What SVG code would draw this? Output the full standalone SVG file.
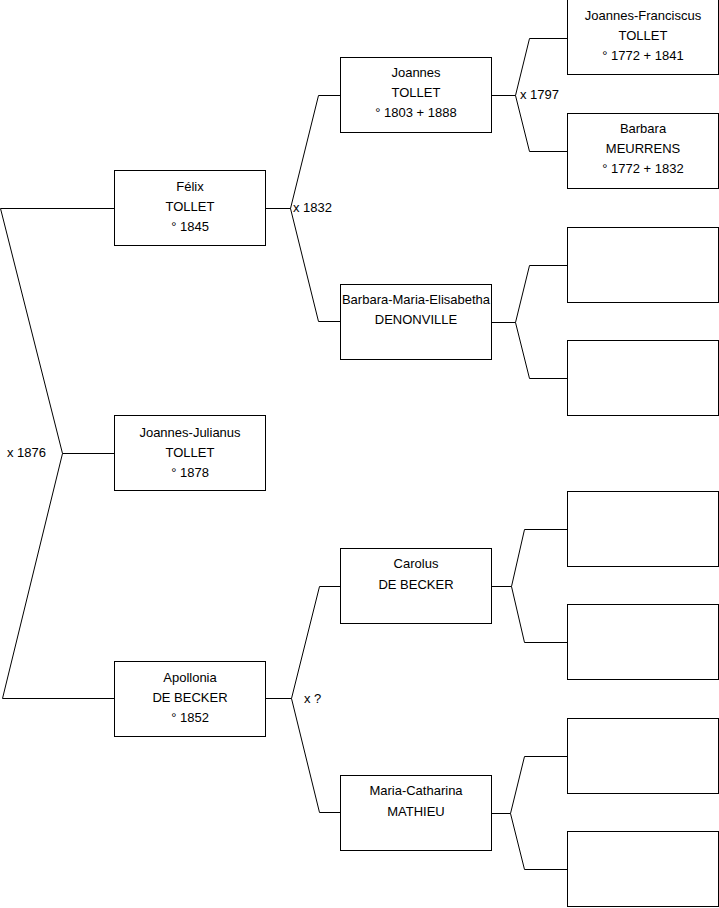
<svg xmlns="http://www.w3.org/2000/svg" width="719" height="908" viewBox="0 0 719 908">
<style>
.box{fill:#fff;stroke:#000;stroke-width:1}
.ln{fill:none;stroke:#000;stroke-width:1}
text{font-family:"Liberation Sans",Arial,sans-serif;font-size:13px;fill:#000}
.c{text-anchor:middle}
</style>
<rect width="719" height="908" fill="#fff"/>
<g id="connectors">
<polyline class="ln" points="114,208.5 0.5,208.5 62.5,453.5 2.5,698.5 114,698.5"/>
<line class="ln" x1="62.5" y1="453.5" x2="114" y2="453.5"/>
<polyline class="ln" points="340,95.5 318.5,95.5 290.5,208.5 318.5,321.5 340,321.5"/>
<line class="ln" x1="265" y1="208.5" x2="290.5" y2="208.5"/>
<polyline class="ln" points="340,586.5 319.5,586.5 291.5,698.5 319.5,812.5 340,812.5"/>
<line class="ln" x1="265" y1="698.5" x2="291.5" y2="698.5"/>
<polyline class="ln" points="567,38.5 529.5,38.5 515.5,95.5 529.5,151.5 567,151.5"/>
<line class="ln" x1="492" y1="95.5" x2="515.5" y2="95.5"/>
<polyline class="ln" points="567,265.5 529.5,265.5 515.5,322.5 529.5,378.5 567,378.5"/>
<line class="ln" x1="492" y1="322.5" x2="515.5" y2="322.5"/>
<polyline class="ln" points="567,529.5 524.5,529.5 511.5,586.5 524.5,642.5 567,642.5"/>
<line class="ln" x1="492" y1="586.5" x2="511.5" y2="586.5"/>
<polyline class="ln" points="567,756.5 524.5,756.5 510.5,813.5 524.5,869.5 567,869.5"/>
<line class="ln" x1="492" y1="813.5" x2="510.5" y2="813.5"/>
<text x="7" y="457">x 1876</text>
<text x="293" y="212">x 1832</text>
<text x="520" y="99">x 1797</text>
<text x="304" y="703">x ?</text>
</g>
<g id="felix"><rect class="box" x="114.5" y="170.5" width="151" height="75"/>
<text class="c" x="190" y="191">Félix</text><text class="c" x="190" y="211">TOLLET</text><text class="c" x="190" y="231">° 1845</text></g>
<g id="joannes-julianus"><rect class="box" x="114.5" y="415.5" width="151" height="75"/>
<text class="c" x="190" y="437">Joannes-Julianus</text><text class="c" x="190" y="457">TOLLET</text><text class="c" x="190" y="477">° 1878</text></g>
<g id="apollonia"><rect class="box" x="114.5" y="661.5" width="151" height="75"/>
<text class="c" x="190" y="682">Apollonia</text><text class="c" x="190" y="702">DE BECKER</text><text class="c" x="190" y="722">° 1852</text></g>
<g id="joannes"><rect class="box" x="340.5" y="57.5" width="151" height="75"/>
<text class="c" x="416" y="77">Joannes</text><text class="c" x="416" y="97">TOLLET</text><text class="c" x="416" y="117">° 1803 + 1888</text></g>
<g id="barbara-maria-elisabetha"><rect class="box" x="340.5" y="284.5" width="151" height="75"/>
<text class="c" x="416" y="304">Barbara-Maria-Elisabetha</text><text class="c" x="416" y="324">DENONVILLE</text></g>
<g id="carolus"><rect class="box" x="340.5" y="548.5" width="151" height="75"/>
<text class="c" x="416" y="568">Carolus</text><text class="c" x="416" y="589">DE BECKER</text></g>
<g id="maria-catharina"><rect class="box" x="340.5" y="775.5" width="151" height="75"/>
<text class="c" x="416" y="795">Maria-Catharina</text><text class="c" x="416" y="816">MATHIEU</text></g>
<g id="joannes-franciscus"><rect class="box" x="567.5" y="-0.5" width="151" height="75"/>
<text class="c" x="643" y="20">Joannes-Franciscus</text><text class="c" x="643" y="40">TOLLET</text><text class="c" x="643" y="60">° 1772 + 1841</text></g>
<g id="barbara"><rect class="box" x="567.5" y="113.5" width="151" height="75"/>
<text class="c" x="643" y="133">Barbara</text><text class="c" x="643" y="153">MEURRENS</text><text class="c" x="643" y="173">° 1772 + 1832</text></g>
<g id="empty-1"><rect class="box" x="567.5" y="227.5" width="151" height="75"/></g>
<g id="empty-2"><rect class="box" x="567.5" y="340.5" width="151" height="75"/></g>
<g id="empty-3"><rect class="box" x="567.5" y="491.5" width="151" height="75"/></g>
<g id="empty-4"><rect class="box" x="567.5" y="604.5" width="151" height="75"/></g>
<g id="empty-5"><rect class="box" x="567.5" y="718.5" width="151" height="75"/></g>
<g id="empty-6"><rect class="box" x="567.5" y="831.5" width="151" height="75"/></g>
</svg>
